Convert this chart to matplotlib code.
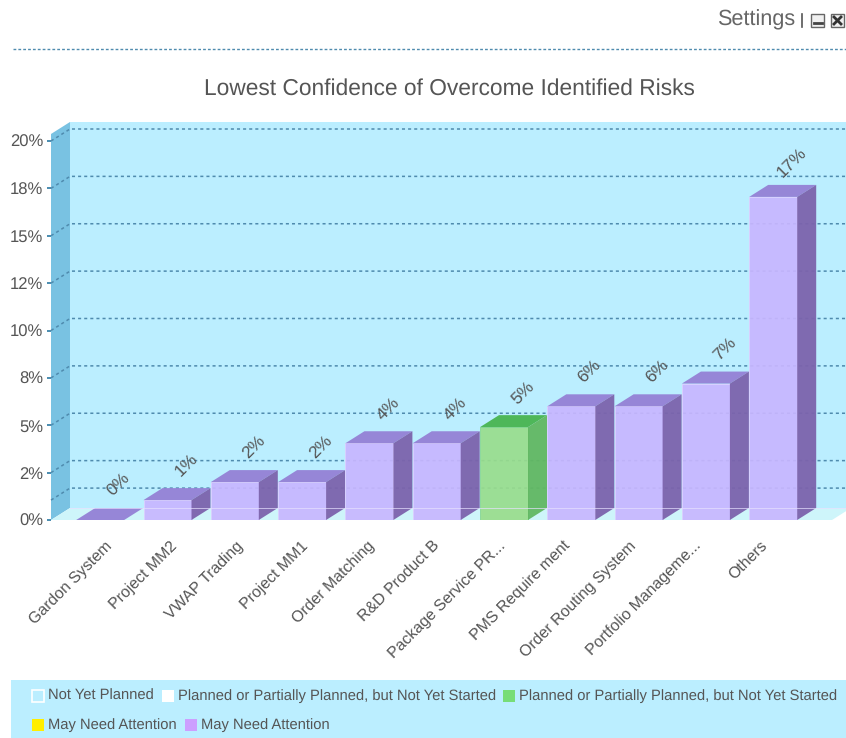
"""
Lowest Confidence of Overcome Identified Risks - fake 3D column chart.
"""

import matplotlib
matplotlib.use("Agg")
import matplotlib.pyplot as plt
from matplotlib.patches import Polygon, Rectangle
from matplotlib.lines import Line2D

plt.rcParams['font.family'] = ['Liberation Sans', 'DejaVu Sans']
plt.rcParams['text.hinting'] = 'no_hinting'

categories = ["Gardon System", "Project MM2", "VWAP Trading", "Project MM1",
              "Order Matching", "R&D Product B", "Package Service PR...",
              "PMS Require ment", "Order Routing System",
              "Portfolio Manageme...", "Others"]
values = [0.0, 1.05, 2.0, 2.0, 4.05, 4.05, 4.9, 6.0, 6.0, 7.2, 17.05]
value_labels = ["0%", "1%", "2%", "2%", "4%", "4%", "5%", "6%", "6%", "7%", "17%"]
highlighted = ["Package Service PR..."]

y_ticks = [0, 2.5, 5, 7.5, 10, 12.5, 15, 17.5, 20]
y_tick_labels = ["0%", "2%", "5%", "8%", "10%", "12%", "15%", "18%", "20%"]
threshold = 1.05

legend_row1 = ["Not Yet Planned", "Planned or Partially Planned, but Not Yet Started",
               "Planned or Partially Planned, but Not Yet Started"]
legend_row2 = ["May Need Attention", "May Need Attention"]

TEXT = '#555555'
GRID = '#4F8BAE'
WALL = '#BBEEFF'
SIDE_WALL = '#79C2E2'
FLOOR = '#CEF5FA'
PURPLE = ('#C8B6FF', '#9583D6', '#7C63AC')
GREEN = ('#99DD8C', '#4BB654', '#62B862')

W, H = 846, 738
BAR_STEP = 67.3   # pixels per category
PX_Y = 18.95      # pixels per percent
DX = 19 / BAR_STEP
DY = 12 / PX_Y
BAR_W = 48 / BAR_STEP
X_MIN = (51 - 100.2) / BAR_STEP
X_MAX = (832 - 100.2) / BAR_STEP
Y_TOP = 20.37


def fx(px):
    return px / W


def fy(py):
    return 1 - py / H


fig = plt.figure(figsize=(W / 100, H / 100), dpi=100, facecolor='white')
ax = fig.add_axes([fx(51), fy(520), 781 / W, 379 / H])
ax.set_xlim(X_MIN, X_MAX)
ax.set_ylim(0, 20)
ax.patch.set_visible(False)
for s in ax.spines.values():
    s.set_visible(False)

# walls and floor
ax.add_patch(Polygon([(X_MIN + DX, DY), (X_MAX + DX, DY), (X_MAX + DX, Y_TOP + DY), (X_MIN + DX, Y_TOP + DY)],
                     closed=True, fc=WALL, ec='none', clip_on=False, zorder=1))
ax.add_patch(Polygon([(X_MIN, 0), (X_MIN + DX, DY), (X_MIN + DX, Y_TOP + DY), (X_MIN, Y_TOP)],
                     closed=True, fc=SIDE_WALL, ec='none', clip_on=False, zorder=1))
ax.add_patch(Polygon([(X_MIN, 0), (X_MAX, 0), (X_MAX + DX, DY), (X_MIN + DX, DY)],
                     closed=True, fc=FLOOR, ec='none', clip_on=False, zorder=1))

# gridlines, on the back wall and across the side wall
for v in y_ticks[1:] + [threshold]:
    ax.plot([X_MIN, X_MIN + DX, X_MAX + DX], [v, v + DY, v + DY], color=GRID, lw=1.1,
            dashes=(2, 2), clip_on=False, zorder=2)

# bars
for i, (name, v) in enumerate(zip(categories, values)):
    front, top, side = GREEN if name in highlighted else PURPLE
    left = i - BAR_W / 2
    right = i + BAR_W / 2
    if v > 0:
        ax.bar(i, v, BAR_W, color=front, edgecolor='#DAD0FF' if front == PURPLE[0] else '#8AD89A',
               lw=0.7, alpha=0.92, zorder=3)
    ax.add_patch(Polygon([(left, v), (right, v), (right + DX, v + DY), (left + DX, v + DY)],
                         closed=True, fc=top, ec='none', alpha=0.97, clip_on=False, zorder=3))
    if v > 0:
        ax.add_patch(Polygon([(right, 0), (right + DX, DY), (right + DX, v + DY), (right, v)],
                             closed=True, fc=side, ec='none', alpha=0.95, clip_on=False, zorder=3))
    ax.annotate(value_labels[i], (i, v), xytext=(13.5, 25), textcoords='offset points',
                rotation=45, ha='center', va='center', fontsize=12.5, color=TEXT,
                annotation_clip=False, zorder=5)

# floor edge shows through the bars
ax.plot([X_MIN + DX, X_MAX + DX], [DY, DY], color='#E6E0FF', lw=0.7, alpha=0.7, clip_on=False, zorder=4)

ax.set_yticks(y_ticks)
ax.set_yticklabels(y_tick_labels, fontsize=12, color=TEXT)
ax.tick_params(axis='y', length=3.2, width=1.4, color='#4A8CB0', pad=2.5)
ax.set_xticks([])

# category labels are spaced a little tighter than the bars
for i, name in enumerate(categories):
    ax.annotate(name, (i * 0.973, 0), xytext=(3, -13), textcoords='offset points',
                rotation=45, rotation_mode='anchor', ha='right', va='top',
                fontsize=11.4, color=TEXT, annotation_clip=False)

fig.text(fx(449.5), fy(88.5), "Lowest Confidence of Overcome Identified Risks", ha='center', va='center',
         fontsize=16.4, color=TEXT)

# header
fig.text(fx(795), fy(20), "Settings", ha='right', va='center', fontsize=15.6, color='#666666')
fig.add_artist(Line2D([fx(802), fx(802)], [fy(14), fy(27)], color='#555555', lw=1.2))
for x0 in (811, 831):
    fig.add_artist(Rectangle((fx(x0), fy(27)), 13 / W, 13 / H, fc='#F0F0F0', ec='#666666', lw=1))
fig.add_artist(Line2D([fx(814), fx(822)], [fy(23), fy(23)], color='#444444', lw=2))
fig.add_artist(Line2D([fx(834), fx(841)], [fy(17), fy(24)], color='#333333', lw=2))
fig.add_artist(Line2D([fx(834), fx(841)], [fy(24), fy(17)], color='#333333', lw=2))
fig.add_artist(Line2D([fx(13), fx(846)], [fy(48.5), fy(48.5)], color=GRID, lw=1, dashes=(2, 1.5)))

# legend panel
fig.add_artist(Rectangle((fx(11), 0), (W - 11) / W, 58 / H, fc=WALL, ec='none'))


def legend_item(px, py, label, color, edge='none'):
    fig.add_artist(Rectangle((fx(px), fy(py + 6)), 12 / W, 12 / H, fc=color, ec=edge, lw=1.2))
    fig.text(fx(px + 16), fy(py), label, ha='left', va='center', fontsize=10.6, color=TEXT)


legend_item(32, 696, legend_row1[0], WALL, 'white')
legend_item(162, 696, legend_row1[1], 'white')
legend_item(503, 696, legend_row1[2], '#77DD77')
legend_item(32, 725, legend_row2[0], '#FFEE00')
legend_item(185, 725, legend_row2[1], '#CC9FFF')

fig.savefig('out.png', dpi=100)
